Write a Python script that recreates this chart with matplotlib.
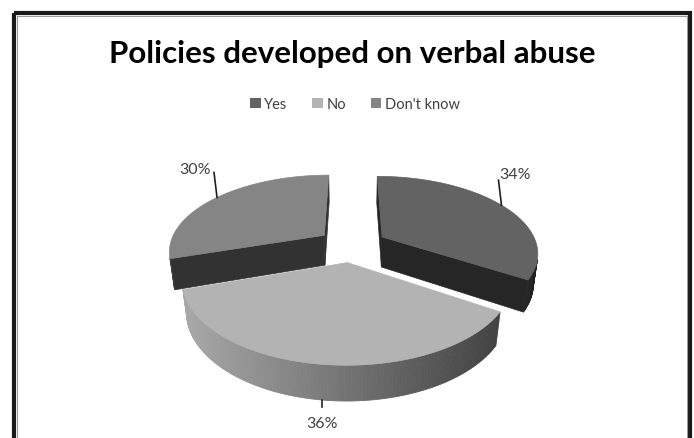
import numpy as np
import matplotlib
matplotlib.use("Agg")
import matplotlib.pyplot as plt
from matplotlib.patches import Polygon, Rectangle, Patch

categories = ["Yes", "No", "Don't know"]
values = [34, 36, 30]
top_colors = ["#636363", "#b3b3b3", "#858585"]
cut_colors = ["#262626", "#5a5a5a", "#323232"]
# grey level of the outer rim at its left and right ends
side_levels = [(0.16, 0.12), (0.66, 0.26), (0.24, 0.20)]

title = "Policies developed on verbal abuse"

# camera / projection settings (pixel space)
elev = np.radians(29)
dist = 4.55
focal = 705
cx, cy = 352, 246
height = 0.23
explode = 0.226


def project(x, y, z):
    depth = dist + y * np.cos(elev) - z * np.sin(elev)
    sx = cx + focal * x / depth
    sy = cy - focal * (y * np.sin(elev) + z * np.cos(elev)) / depth
    return sx, sy


cam = np.array([0.0, -dist * np.cos(elev), dist * np.sin(elev)])


def facing(normal, point):
    return np.dot(normal, cam - np.asarray(point)) > 0


fig = plt.figure(figsize=(6.94, 4.39), dpi=100)
ax = fig.add_axes([0, 0, 1, 1])
ax.set_xlim(0, 694)
ax.set_ylim(439, 0)
ax.axis("off")

# chart border
ax.add_patch(Rectangle((14, 14), 676, 460, fill=False, lw=3, ec="#1a1a1a"))
ax.add_patch(Rectangle((17, 17), 670, 460, fill=False, lw=0.8, ec="#9a9a9a"))

total = sum(values)
starts = np.cumsum([0] + values[:-1]) / total * 360
spans = np.array(values) / total * 360

slices = []
for i in range(len(values)):
    a1 = starts[i]
    a2 = a1 + spans[i]
    mid = np.radians((a1 + a2) / 2)
    ox, oy = explode * np.sin(mid), explode * np.cos(mid)
    slices.append((i, a1, a2, ox, oy))

# far slices first
slices.sort(key=lambda s: -(s[4]))

label_pts = {}
for i, a1, a2, ox, oy in slices:
    th = np.radians(np.arange(a1, a2 + 0.01, 1.0))
    if th[-1] < np.radians(a2):
        th = np.append(th, np.radians(a2))
    rx = ox + np.sin(th)
    ry = oy + np.cos(th)

    # radial cut faces
    for ang, sign in ((np.radians(a1), -1), (np.radians(a2), 1)):
        n = np.array([sign * np.cos(ang), -sign * np.sin(ang), 0])
        px, py = ox + np.sin(ang) / 2, oy + np.cos(ang) / 2
        if facing(n, (px, py, -height / 2)):
            ex, ey = ox + np.sin(ang), oy + np.cos(ang)
            pts = [project(ox, oy, 0), project(ex, ey, 0),
                   project(ex, ey, -height), project(ox, oy, -height)]
            ax.add_patch(Polygon(pts, closed=True, fc=cut_colors[i],
                                 ec=cut_colors[i], lw=0.5))

    # outer rim, shaded left to right
    strips = []
    for k in range(len(th) - 1):
        tm = (th[k] + th[k + 1]) / 2
        n = np.array([np.sin(tm), np.cos(tm), 0])
        if facing(n, (ox + np.sin(tm), oy + np.cos(tm), -height / 2)):
            strips.append(k)
    if strips:
        xs = [project(rx[k], ry[k], 0)[0] for k in strips]
        x0, x1 = min(xs), max(xs) + 1e-6
        lo, hi = side_levels[i]
        for k in strips:
            pts = [project(rx[k], ry[k], 0), project(rx[k + 1], ry[k + 1], 0),
                   project(rx[k + 1], ry[k + 1], -height),
                   project(rx[k], ry[k], -height)]
            t = (project(rx[k], ry[k], 0)[0] - x0) / (x1 - x0)
            g = lo + (hi - lo) * t
            ax.add_patch(Polygon(pts, closed=True, fc=(g, g, g),
                                 ec=(g, g, g), lw=0.6))

    # top face
    top = [project(ox, oy, 0)] + [project(x, y, 0) for x, y in zip(rx, ry)]
    ax.add_patch(Polygon(top, closed=True, fc=top_colors[i],
                         ec=top_colors[i], lw=0.5))

    mid = np.radians((a1 + a2) / 2)
    front = np.cos(mid) < 0
    z = -height if front else 0
    label_pts[i] = (project(ox + np.sin(mid), oy + np.cos(mid), z), front,
                    np.sin(mid))

# percentage labels with leader lines
for i in range(len(values)):
    (px, py), front, side = label_pts[i]
    if front:
        ex, ey = px, py + 7
        ax.plot([px, ex], [py, ey], color="#202020", lw=1.2)
        ax.text(ex, ey + 16, f"{values[i]}%", ha="center", va="center",
                fontsize=11.5, color="#404040", family="Lato")
    else:
        ex, ey = px - 3, py - 25
        ax.plot([px, ex], [py, ey], color="#202020", lw=1.2)
        if side > 0:
            ax.text(ex + 1, ey - 6, f"{values[i]}%", ha="left", va="center",
                    fontsize=11.5, color="#404040", family="Lato")
        else:
            ax.text(ex - 3, ey - 3, f"{values[i]}%", ha="right", va="center",
                    fontsize=11.5, color="#404040", family="Lato")

ax.text(352, 63, title, ha="center", va="baseline", fontsize=22.5,
        fontweight="bold", color="#000000", family="Lato")

handles = [Patch(fc=c, ec="none") for c in top_colors]
fig.legend(handles, categories, loc="center", ncol=3,
           bbox_to_anchor=(355 / 694, 1 - 105 / 439), frameon=False,
           prop={"family": "Lato", "size": 10.5}, labelcolor="#404040",
           handlelength=0.7, handleheight=0.7, handletextpad=0.25,
           columnspacing=1.7)

fig.savefig("out.png", dpi=100)
